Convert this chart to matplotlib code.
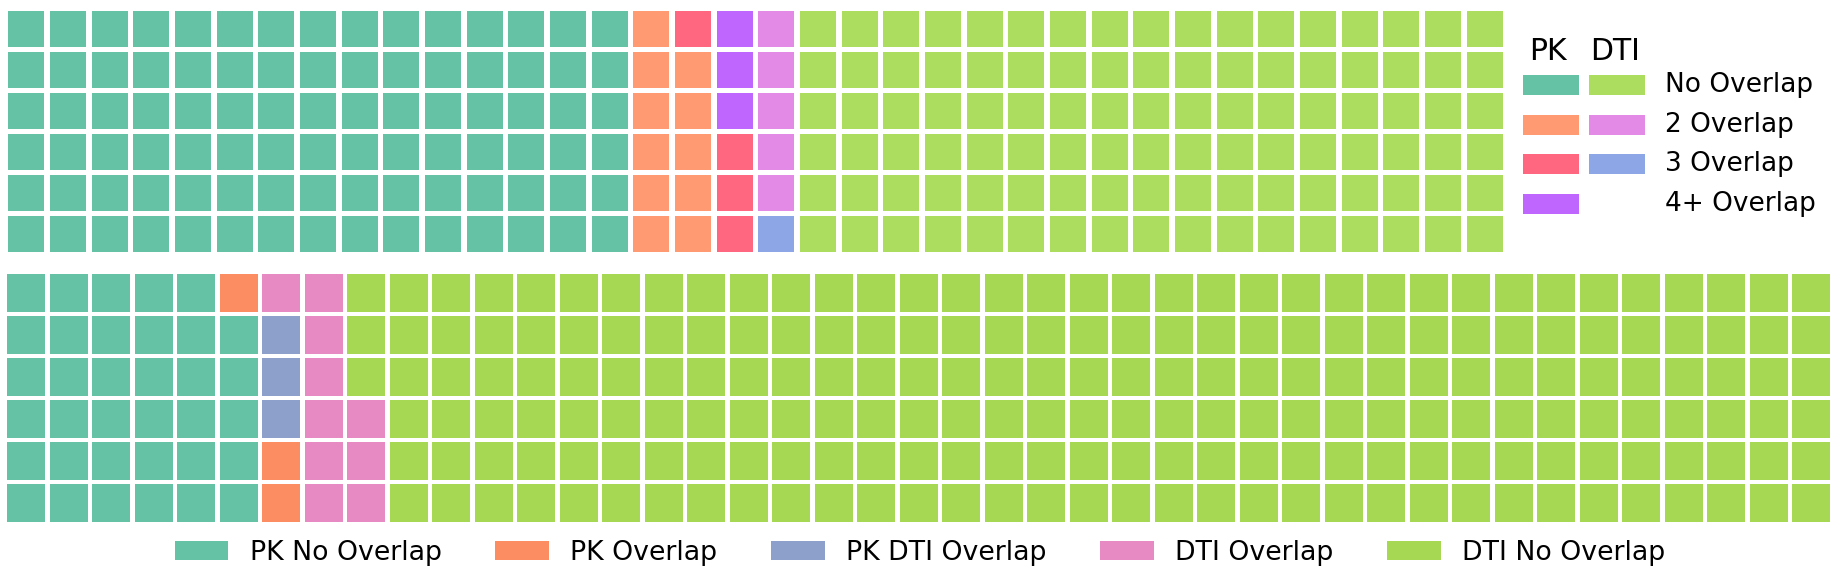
import matplotlib
matplotlib.use("Agg")
import matplotlib.pyplot as plt
from matplotlib.patches import Rectangle, Patch

# top waffle: overlap counts per source
top_labels = ['PK No Overlap', 'PK 2 Overlap', 'PK 3 Overlap', 'PK 4+ Overlap',
              'DTI 3 Overlap', 'DTI 2 Overlap', 'DTI No Overlap']
top_counts = [90, 11, 4, 3, 1, 5, 102]
top_colors = ['#66c2a5', '#ff9a73', '#ff6680', '#bf66ff', '#8ca6e6', '#e38ae6', '#addd5f']
top_rows = 6

# bottom waffle
bot_labels = ['PK No Overlap', 'PK Overlap', 'PK DTI Overlap', 'DTI Overlap', 'DTI No Overlap']
bot_counts = [35, 3, 3, 10, 207]
bot_colors = ['#66c2a5', '#fc8d62', '#8da0cb', '#e78ac3', '#a6d854']
bot_rows = 6

# right legend of the top chart
key_rows = ['No Overlap', '2 Overlap', '3 Overlap', '4+ Overlap']
key_pk = ['#66c2a5', '#ff9a73', '#ff6680', '#bf66ff']
key_dti = ['#addd5f', '#e38ae6', '#8ca6e6', None]

W, H = 1843, 578
fig = plt.figure(figsize=(W / 100, H / 100), dpi=100)


def waffle(ax, counts, colors, nrows, gx, gy):
    total = sum(counts)
    ncols = -(-total // nrows)
    k = 0
    for cnt, col in zip(counts, colors):
        for _ in range(cnt):
            c, r = divmod(k, nrows)
            ax.add_patch(Rectangle((c + gx / 2, r + gy / 2), 1 - gx, 1 - gy,
                                   facecolor=col, edgecolor='none'))
            k += 1
    ax.set_xlim(0, ncols)
    ax.set_ylim(0, nrows)
    ax.axis('off')


def px_axes(x0, y0, w, h):
    return fig.add_axes([x0 / W, 1 - (y0 + h) / H, w / W, h / H])


ax1 = px_axes(5.4, 8.5, 36 * 41.67, 6 * 41.0)
waffle(ax1, top_counts, top_colors, top_rows, 0.136, 0.122)

ax2 = px_axes(4.8, 272, 43 * 42.5, 6 * 42.0)
waffle(ax2, bot_counts, bot_colors, bot_rows, 0.106, 0.10)

# overlay in pixel coords for the two-column key
ov = fig.add_axes([0, 0, 1, 1], zorder=5)
ov.set_xlim(0, W)
ov.set_ylim(H, 0)
ov.axis('off')
ov.text(1529, 52, 'PK', fontsize=21.5, va='center', ha='left')
ov.text(1590, 52, 'DTI', fontsize=21.5, va='center', ha='left')
for i, lab in enumerate(key_rows):
    yc = 85 + i * 39.7
    ov.add_patch(Rectangle((1523, yc - 10), 55.5, 20, facecolor=key_pk[i], edgecolor='none'))
    if key_dti[i] is not None:
        ov.add_patch(Rectangle((1589, yc - 10), 55.5, 20, facecolor=key_dti[i], edgecolor='none'))
    ov.text(1665, yc, lab, fontsize=19, va='center', ha='left')

handles = [Patch(facecolor=c, edgecolor='none', label=l) for l, c in zip(bot_labels, bot_colors)]
fig.legend(handles=handles, loc='center', bbox_to_anchor=(920 / W, 1 - 553 / H),
           ncol=5, frameon=False, fontsize=19.3, handlelength=2.0, handleheight=0.7,
           handletextpad=0.8, columnspacing=2.0)

fig.savefig('out.png', dpi=100)
